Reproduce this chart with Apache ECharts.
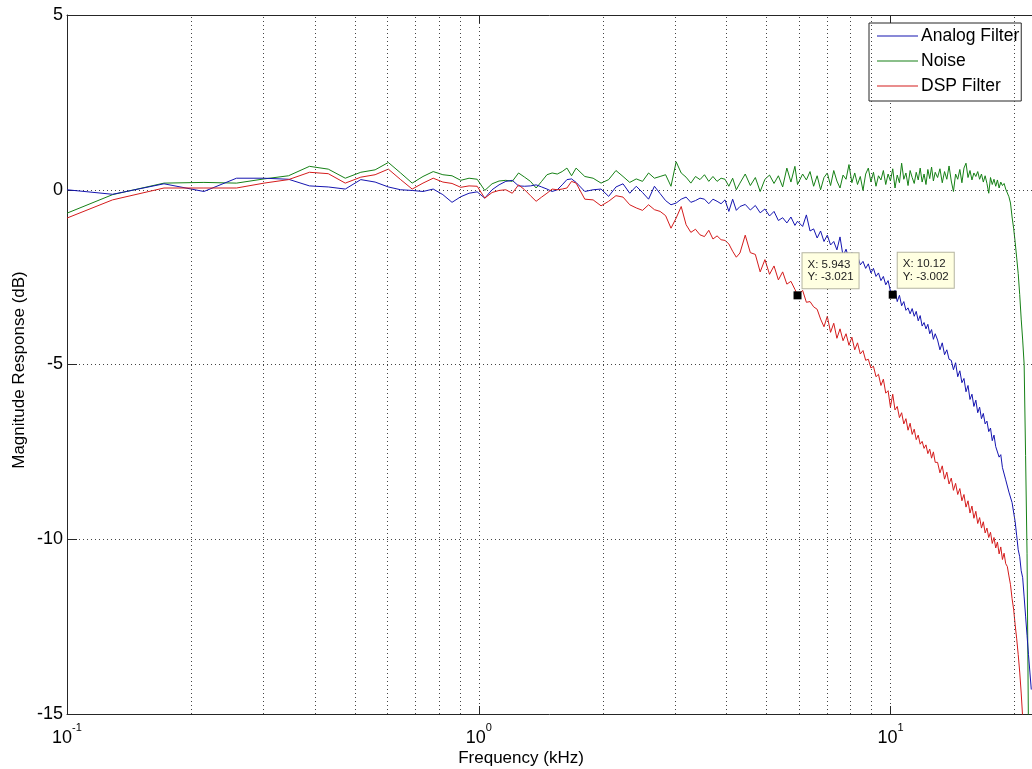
<!DOCTYPE html>
<html>
<head>
<meta charset="utf-8">
<script src="https://cdn.jsdelivr.net/npm/echarts@6/dist/echarts.min.js"></script>
<style>
  html, body { margin: 0; padding: 0; background: #fff; }
  #grafico { width: 1032px; height: 769px; }
</style>
</head>
<body>
<div id="grafico"></div>
<script>
// frequenze (kHz) dei punti
const freq = [0.1,
  0.129, 0.172, 0.215, 0.258, 0.301, 0.345, 0.388, 0.431, 0.474, 0.517, 0.560, 0.603, 0.646, 0.689, 0.732, 0.775,
  0.818, 0.861, 0.904, 0.947, 0.991, 1.034, 1.077, 1.120, 1.163, 1.206, 1.249, 1.292, 1.335, 1.378, 1.421, 1.464, 1.507, 1.551, 1.594, 1.637, 1.680, 1.723,
  1.809, 1.895, 1.981, 2.067, 2.153, 2.240, 2.326, 2.412, 2.498, 2.584, 2.670, 2.756, 2.842, 2.929, 3.015, 3.101, 3.187, 3.273, 3.359, 3.445, 3.532, 3.618, 3.704, 3.790, 3.876, 3.962, 4.048, 4.135, 4.221, 4.307,
  4.436, 4.565, 4.694, 4.823, 4.953, 5.082, 5.211, 5.340, 5.469, 5.599, 5.728, 5.857, 5.943, 6.115, 6.245, 6.374, 6.503, 6.632, 6.761, 6.891,
  7.020, 7.149, 7.278, 7.407, 7.537, 7.666, 7.795, 7.924, 8.053, 8.183, 8.312, 8.441, 8.570, 8.699, 8.829, 8.958,
  9.087, 9.216, 9.345, 9.475, 9.604, 9.733, 9.862, 9.991, 10.121, 10.250, 10.379, 10.508, 10.637, 10.767, 10.896,
  11.025, 11.154, 11.283, 11.413, 11.542, 11.671, 11.800, 11.929, 12.059, 12.188, 12.317, 12.446, 12.575, 12.705, 12.834,
  13.006, 13.178, 13.350, 13.523, 13.695, 13.867, 14.040, 14.212, 14.384, 14.556, 14.729, 14.901,
  15.073, 15.245, 15.418, 15.590, 15.762, 15.934, 16.107, 16.279, 16.451, 16.623, 16.796, 16.968,
  17.140, 17.313, 17.485, 17.657, 17.829, 18.002, 18.174, 18.346, 18.518, 18.691, 18.863,
  19.035, 19.207, 19.380, 19.552, 19.724, 19.896, 20.069, 20.241, 20.413, 20.585, 20.758, 20.930,
  21.102, 21.274, 21.447, 21.619, 21.791, 21.963];

// Analog Filter (dB)
const analog = [0.00,
  -0.13, 0.17, -0.05, 0.33, 0.33, 0.30, 0.11, 0.08, 0.02, 0.29, 0.22, 0.08, 0.00, -0.02, -0.05, 0.02,
  -0.14, -0.36, -0.20, -0.10, -0.06, -0.24, 0.00, 0.14, 0.24, 0.27, 0.11, 0.10, 0.11, 0.14, 0.08, 0.02, -0.05, 0.00, 0.14, 0.29, 0.31, 0.21,
  -0.05, 0.00, 0.02, -0.19, 0.08, 0.17, -0.10, 0.10, -0.08, -0.27, 0.10, -0.11, -0.31, -0.43, -0.38, -0.27, -0.21, -0.36, -0.31, -0.24, -0.27, -0.40, -0.27, -0.33, -0.40, -0.29, -0.62, -0.27, -0.59, -0.48,
  -0.42, -0.58, -0.45, -0.66, -0.55, -0.75, -0.62, -0.88, -0.80, -0.95, -0.78, -1.02, -0.90, -1.05, -0.72, -1.18, -1.12, -1.38, -1.18, -1.48,
  -1.30, -1.58, -1.48, -1.72, -1.35, -1.90, -1.70, -1.98, -1.80, -2.08, -1.88, -2.15, -2.05, -2.25, -2.12, -2.38,
  -2.25, -2.48, -2.38, -2.60, -2.48, -2.72, -2.60, -2.90, -3.00, -2.88, -3.20, -3.02, -3.32, -3.20, -3.45,
  -3.38, -3.55, -3.40, -3.62, -3.48, -3.75, -3.60, -3.90, -3.80, -3.98, -3.85, -4.12, -4.00, -4.28, -4.12,
  -4.30, -4.58, -4.38, -4.72, -4.58, -4.85, -4.88, -5.15, -4.95, -5.35, -5.18, -5.52,
  -5.40, -5.78, -5.60, -6.00, -5.85, -6.20, -6.02, -6.38, -6.22, -6.55, -6.40, -6.70,
  -6.62, -6.92, -6.82, -7.18, -7.02, -7.35, -7.30, -7.65, -7.58, -7.95, -7.90,
  -8.30, -8.30, -8.65, -8.60, -8.95, -8.95, -9.50, -9.90, -10.30, -10.50, -10.90, -11.10,
  -11.65, -12.20, -12.75, -13.30, -13.80, -14.30];

// Noise (dB)
const noise = [-0.67,
  -0.14, 0.19, 0.21, 0.19, 0.31, 0.40, 0.67, 0.59, 0.33, 0.50, 0.57, 0.78, 0.48, 0.19, 0.38, 0.52,
  0.43, 0.40, 0.27, 0.33, 0.30, -0.02, 0.17, 0.25, 0.27, 0.24, 0.48, 0.36, 0.24, 0.05, 0.24, 0.43, 0.48, 0.45, 0.52, 0.62, 0.40, 0.62,
  0.38, 0.33, 0.19, 0.29, 0.55, 0.38, 0.21, 0.31, 0.24, 0.48, 0.33, 0.38, 0.43, 0.10, 0.80, 0.48, 0.36, 0.19, 0.38, 0.29, 0.43, 0.24, 0.38, 0.24, 0.33, 0.30, 0.10, 0.33, 0.00, 0.19,
  0.45, 0.12, 0.35, -0.05, 0.30, 0.42, 0.18, 0.40, 0.08, 0.62, 0.22, 0.67, 0.15, 0.45, 0.28, 0.52, 0.10, 0.40, 0.00, 0.35,
  0.48, 0.12, 0.55, 0.25, 0.05, 0.42, 0.30, 0.72, 0.20, 0.48, 0.15, 0.38, -0.02, 0.45, 0.62, 0.22,
  0.50, 0.10, 0.40, 0.28, 0.55, 0.15, 0.45, 0.25, 0.60, 0.05, 0.42, 0.20, 0.76, 0.30, 0.48,
  0.12, 0.55, 0.35, 0.18, 0.50, 0.28, 0.62, 0.22, 0.45, 0.15, 0.58, 0.32, 0.65, 0.25, 0.50,
  0.35, 0.60, 0.20, 0.52, 0.30, 0.68, 0.25, -0.05, 0.45, 0.30, 0.58, 0.20,
  0.62, 0.76, 0.35, 0.55, 0.28, 0.48, 0.38, 0.52, 0.30, 0.45, 0.22, 0.40,
  0.18, -0.10, 0.35, 0.15, 0.30, 0.10, 0.28, 0.05, 0.22, 0.12, 0.18,
  0.02, -0.02, -0.20, -0.38, -0.78, -1.10, -1.50, -1.95, -2.40, -3.00, -3.70, -4.30,
  -5.00, -7.60, -10.4, -15.5, -19.0, -22.0];

// DSP Filter (dB)
const dsp = [-0.81,
  -0.29, 0.05, 0.05, 0.05, 0.19, 0.29, 0.50, 0.46, 0.19, 0.36, 0.43, 0.59, 0.29, 0.02, 0.19, 0.33,
  0.22, 0.18, 0.07, 0.11, 0.10, -0.24, -0.08, -0.02, 0.00, -0.10, 0.14, 0.00, -0.17, -0.33, -0.21, -0.10, 0.02, 0.00, 0.02, 0.05, 0.24, 0.19,
  -0.27, -0.29, -0.46, -0.33, -0.17, -0.21, -0.43, -0.52, -0.59, -0.43, -0.57, -0.62, -0.74, -1.10, -0.81, -0.48, -1.00, -1.22, -1.13, -1.29, -1.34, -1.16, -1.41, -1.32, -1.43, -1.45, -1.55, -1.76, -1.93, -1.81,
  -1.30, -1.80, -1.85, -2.35, -2.00, -2.42, -2.18, -2.58, -2.35, -2.70, -2.62, -2.85, -3.02, -2.88, -3.22, -3.20, -3.35, -3.42, -3.70, -3.92,
  -3.62, -4.08, -3.82, -4.25, -3.98, -4.32, -4.12, -4.45, -4.22, -4.58, -4.38, -4.70, -4.60, -4.88, -4.85, -5.10,
  -5.05, -5.35, -5.28, -5.60, -5.42, -5.82, -5.75, -6.22, -5.85, -6.30, -6.20, -6.52, -6.38, -6.70, -6.55,
  -6.88, -6.68, -7.00, -6.85, -7.15, -7.02, -7.28, -7.20, -7.40, -7.30, -7.55, -7.42, -7.68, -7.50, -7.80,
  -7.80, -8.10, -7.90, -8.28, -8.08, -8.42, -8.25, -8.60, -8.40, -8.72, -8.55, -8.90,
  -8.72, -9.08, -8.90, -9.25, -9.05, -9.40, -9.20, -9.55, -9.38, -9.68, -9.50, -9.82,
  -9.68, -9.95, -9.80, -10.12, -9.95, -10.25, -10.08, -10.42, -10.22, -10.58, -10.40,
  -10.70, -10.78, -11.05, -11.30, -11.70, -12.00, -12.45, -12.85, -13.30, -13.80, -14.40, -15.10,
  -16.5, -18.0, -20.0, -22.0, -24.0, -26.0];

// linee di griglia secondarie (asse logaritmico)
const minorGrid = [0.2, 0.3, 0.4, 0.5, 0.6, 0.7, 0.8, 0.9, 2, 3, 4, 5, 6, 7, 8, 9, 20];

// data tip: [frequenza, dB]
const tipDsp = [5.943, -3.021];
const tipAnalog = [10.12, -3.002];

const font = "'Liberation Sans', Arial, sans-serif";
const dotted = { type: [1, 3], color: '#444', width: 1 };

function pairs(vals) {
  return freq.map((f, i) => [f, vals[i]]);
}

function tip(p) {
  return {
    coord: p,
    symbol: 'rect',
    symbolSize: 8,
    itemStyle: { color: '#000' },
    label: {
      show: true,
      position: [9, -38],
      formatter: 'X: ' + p[0] + '\nY: ' + p[1],
      fontFamily: font,
      fontSize: 11.5,
      lineHeight: 12.5,
      color: '#222',
      backgroundColor: '#ffffe1',
      borderColor: '#b4b4a0',
      borderWidth: 1,
      padding: [5, 5, 5, 5]
    }
  };
}

var grafico = echarts.init(document.getElementById('grafico'));
var option = {
  animation: false,
  backgroundColor: '#fff',
  grid: { left: 67, right: -3, top: 15, bottom: 55 },
  legend: {
    data: ['Analog Filter', 'Noise', 'DSP Filter'],
    orient: 'vertical',
    left: 869, top: 23,
    padding: [4, 2, 6, 8],
    icon: 'rect',
    itemWidth: 41, itemHeight: 1, itemGap: 7,
    backgroundColor: '#fff',
    borderColor: '#262626', borderWidth: 1, borderRadius: 0,
    textStyle: { fontFamily: font, fontSize: 17.5, lineHeight: 17, color: '#000', padding: [0, 0, 0, -2] }
  },
  xAxis: [{
    type: 'log', logBase: 10, min: 0.1, max: 22.05,
    axisLine: { onZero: false, lineStyle: { color: '#262626' } },
    axisTick: { inside: true, length: 8, lineStyle: { color: '#262626' } },
    splitLine: { show: true, lineStyle: dotted },
    axisLabel: {
      showMaxLabel: false,
      margin: 5,
      formatter: v => '{b|10}{s|' + Math.round(Math.log10(v)) + '}',
      rich: {
        b: { fontFamily: font, fontSize: 18, color: '#000', padding: [10, 0, 0, 0] },
        s: { fontFamily: font, fontSize: 11, color: '#000', padding: [0, 0, 10, 0] }
      }
    }
  }, {
    type: 'log', logBase: 10, min: 0.1, max: 22.05, position: 'top',
    axisLine: { onZero: false, lineStyle: { color: '#262626' } },
    axisTick: { inside: true, length: 8, lineStyle: { color: '#262626' } },
    axisLabel: { show: false },
    splitLine: { show: false }
  }],
  yAxis: {
    type: 'value', min: -15, max: 5, interval: 5,
    axisLine: { show: true, onZero: false, lineStyle: { color: '#262626' } },
    axisTick: { show: true, inside: true, length: 10, lineStyle: { color: '#262626' } },
    splitLine: { show: true, lineStyle: dotted },
    axisLabel: { fontFamily: font, fontSize: 18, color: '#000', margin: 4 }
  },
  graphic: [
    { type: 'text', x: 521, y: 758,
      style: { text: 'Frequency (kHz)', fontFamily: font, fontSize: 17, fill: '#000', align: 'center', verticalAlign: 'middle' } },
    { type: 'text', x: 19, y: 370, rotation: Math.PI / 2,
      style: { text: 'Magnitude Response (dB)', fontFamily: font, fontSize: 17, fill: '#000', align: 'center', verticalAlign: 'middle' } }
  ],
  series: [
    { name: 'griglia', type: 'line', data: [], silent: true, z: 1,
      markLine: { silent: true, symbol: ['none', 'none'], label: { show: false }, lineStyle: dotted,
        data: minorGrid.map(v => ({ xAxis: v })) } },
    { name: 'Analog Filter', type: 'line', data: pairs(analog), symbol: 'none', clip: true, z: 3,
      lineStyle: { color: '#1515b0', width: 1 }, itemStyle: { color: '#1515b0' },
      markPoint: { data: [tip(tipAnalog)] } },
    { name: 'Noise', type: 'line', data: pairs(noise), symbol: 'none', clip: true, z: 2,
      lineStyle: { color: '#168016', width: 1 }, itemStyle: { color: '#168016' } },
    { name: 'DSP Filter', type: 'line', data: pairs(dsp), symbol: 'none', clip: true, z: 3,
      lineStyle: { color: '#d41c1c', width: 1 }, itemStyle: { color: '#d41c1c' },
      markPoint: { data: [tip(tipDsp)] } }
  ]
};
grafico.setOption(option);
</script>
</body>
</html>
